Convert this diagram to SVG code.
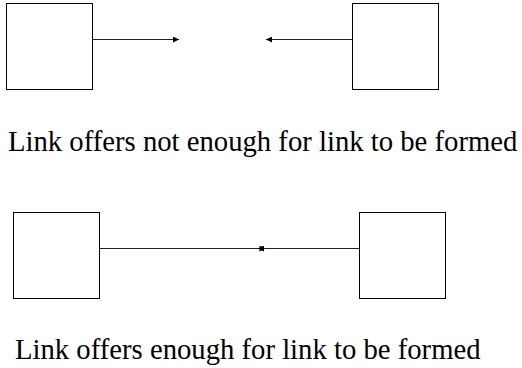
<svg xmlns="http://www.w3.org/2000/svg" width="522" height="368" viewBox="0 0 522 368">
  <style>
    .box { fill: #ffffff; stroke: #000000; stroke-width: 1; }
    .link { stroke: #222222; stroke-width: 1; fill: none; }
    .caption { font-family: "Liberation Serif", "Times New Roman", serif; font-size: 28.7px; fill: #000000; }
  </style>
  <defs>
    <marker id="head" viewBox="0 0 10 10" refX="10" refY="5" markerWidth="7" markerHeight="6" markerUnits="userSpaceOnUse" orient="auto">
      <path d="M0,0 L10,5 L0,10 z" fill="#000000"/>
    </marker>
  </defs>
  <rect width="522" height="368" fill="#ffffff"/>

  <g id="node-a1"><rect class="box" x="6.5" y="3.5" width="86" height="86"/></g>
  <g id="node-b1"><rect class="box" x="352.5" y="3.5" width="86" height="86"/></g>
  <g id="node-a2"><rect class="box" x="13.5" y="212.5" width="86" height="86"/></g>
  <g id="node-b2"><rect class="box" x="359.5" y="212.5" width="86" height="86"/></g>

  <g id="connectors">
    <line class="link" x1="93" y1="39.5" x2="179" y2="39.5" marker-end="url(#head)"/>
    <line class="link" x1="352" y1="39.5" x2="266" y2="39.5" marker-end="url(#head)"/>
    <line class="link" x1="100" y1="248.5" x2="265.5" y2="248.5" marker-end="url(#head)"/>
    <line class="link" x1="359" y1="248.5" x2="258" y2="248.5" marker-end="url(#head)"/>
  </g>

  <text class="caption" x="8" y="151">Link offers not enough for link to be formed</text>
  <text class="caption" x="15" y="359">Link offers enough for link to be formed</text>
</svg>
